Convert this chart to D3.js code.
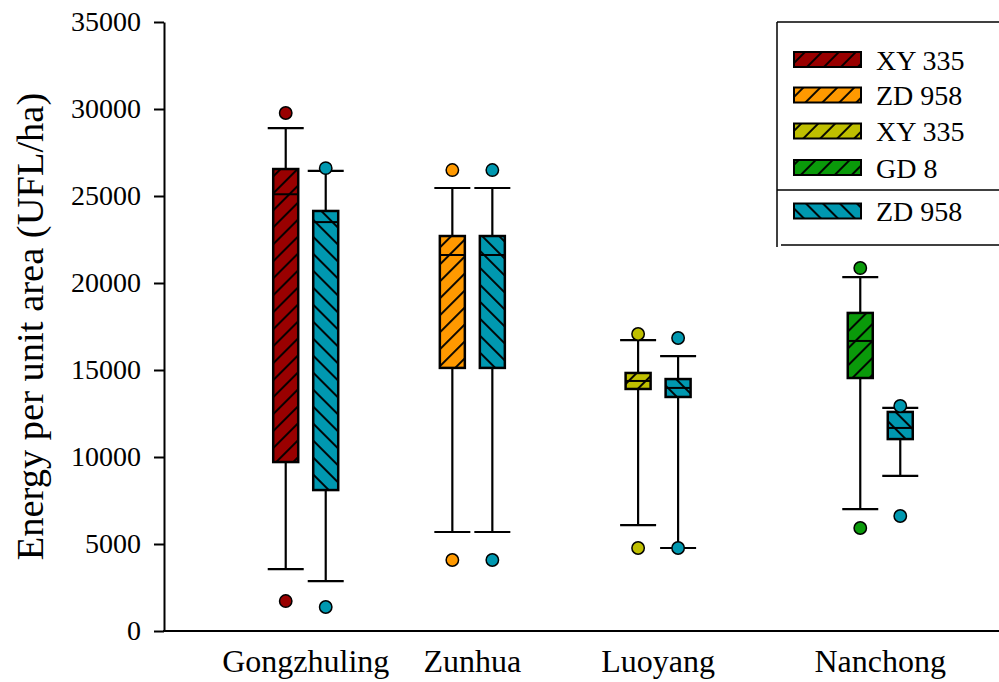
<!DOCTYPE html>
<html>
<head>
<meta charset="utf-8">
<script src="https://cdn.jsdelivr.net/npm/d3@7/dist/d3.min.js"></script>
<style>
  html, body { margin: 0; padding: 0; background: #fff; }
  svg { display: block; }
  svg text { font-family: "Liberation Serif", Tinos, "Times New Roman", Times, "DejaVu Serif", serif !important; fill: #000; }
</style>
</head>
<body>
<svg id="chart" width="999" height="682"></svg>
<script>
// ---------------- DATA ----------------
const categories = ["Gongzhuling", "Zunhua", "Luoyang", "Nanchong"];
const categoryPos = [1, 1.87, 2.84, 4];           // x positions in axis units
const leftCultivars = ["XY 335", "ZD 958", "XY 335", "GD 8"];
const rightCultivars = ["ZD 958", "ZD 958", "ZD 958", "ZD 958"];
// [lower whisker, Q1, median, Q3, upper whisker]
const leftStats = [
  [3560, 9710, 25100, 26550, 28900],
  [5690, 15120, 21610, 22700, 25460],
  [6090, 13910, 14370, 14830, 16720],
  [7010, 14540, 16670, 18280, 20340]
];
const rightStats = [
  [2870, 8100, 23500, 24140, 26440],
  [5690, 15120, 21610, 22700, 25460],
  [4770, 13450, 13970, 14480, 15800],
  [8910, 11030, 11670, 12590, 12820]
];
const leftOutliers = [[1720, 29770], [4080, 26490], [4770, 17070], [5920, 20860]];
const rightOutliers = [[1380, 26600], [4080, 26490], [4770, 16840], [6610, 12930]];
const yTicks = [0, 5000, 10000, 15000, 20000, 25000, 30000, 35000];
const legendLabels = ["XY 335", "ZD 958", "XY 335", "GD 8", "ZD 958"];
const yTitle = "Energy per unit area (UFL/ha)";

// ---------------- STYLE ----------------
const FONT = "'Liberation Serif', Tinos, 'Times New Roman', Times, 'DejaVu Serif', serif";
const leftColors = ["#990000", "#FF9900", "#BFBF00", "#0A9A0A"];
const rightColor = "#0098B0";
const legendColors = ["#990000", "#FF9900", "#BFBF00", "#0A9A0A", "#0098B0"];
const legendHatch = ["fwd", "fwd", "fwd", "fwd", "back"];

const svg = d3.select("#chart");
const plot = { left: 164, right: 999, top: 22, bottom: 631 };

const x = d3.scaleLinear().domain([0.26, 4.62]).range([plot.left, plot.right]);
const y = d3.scaleLinear().domain([0, 35000]).range([plot.bottom, plot.top]);

const boxW = 25, capW = 36, offset = 20;

// hatch patterns
const defs = svg.append("defs");
function makePattern(id, color, angle) {
  const s = 12;
  const p = defs.append("pattern")
    .attr("id", id)
    .attr("patternUnits", "userSpaceOnUse")
    .attr("width", s).attr("height", s)
    .attr("patternTransform", `rotate(${angle})`);
  p.append("rect").attr("width", s).attr("height", s).attr("fill", color);
  p.append("line").attr("x1", s / 2).attr("y1", -1).attr("x2", s / 2).attr("y2", s + 1)
    .attr("stroke", "#000").attr("stroke-width", 1.9);
}
leftColors.forEach((c, i) => makePattern("hl" + i, c, 45));
makePattern("hr", rightColor, -45);
legendColors.forEach((c, i) => makePattern("lg" + i, c, legendHatch[i] === "fwd" ? 45 : -45));

// y axis
const yAxis = d3.axisLeft(y).tickValues(yTicks).tickSize(10).tickSizeOuter(0).tickPadding(13)
  .tickFormat(d3.format("d"));
const yG = svg.append("g").attr("transform", `translate(${plot.left},0)`).call(yAxis)
  .attr("font-family", FONT);
yG.select(".domain").attr("stroke", "#000").attr("stroke-width", 2);
yG.selectAll(".tick line").attr("stroke", "#000").attr("stroke-width", 2);
yG.selectAll(".tick text").attr("font-size", 28).style("font-family", FONT);

// x axis line
svg.append("line").attr("x1", plot.left - 1).attr("x2", plot.right)
  .attr("y1", y(0)).attr("y2", y(0)).attr("stroke", "#000").attr("stroke-width", 2);

// category labels
svg.selectAll(".cat").data(categories).join("text")
  .attr("class", "cat")
  .attr("x", (d, i) => x(categoryPos[i]))
  .attr("y", 672)
  .attr("text-anchor", "middle")
  .attr("font-size", 32)
  .style("font-family", FONT)
  .text(d => d);

// y title
svg.append("text")
  .attr("transform", `translate(43, ${(plot.top + plot.bottom) / 2}) rotate(-90)`)
  .attr("text-anchor", "middle")
  .attr("font-size", 38.5)
  .style("font-family", FONT)
  .text(yTitle);

// boxes
function drawBox(cx, s, outl, fill, color) {
  const g = svg.append("g");
  const [lo, q1, med, q3, hi] = s;
  g.append("line").attr("x1", cx).attr("x2", cx).attr("y1", y(hi)).attr("y2", y(q3))
    .attr("stroke", "#000").attr("stroke-width", 2.2);
  g.append("line").attr("x1", cx).attr("x2", cx).attr("y1", y(q1)).attr("y2", y(lo))
    .attr("stroke", "#000").attr("stroke-width", 2.2);
  [lo, hi].forEach(v => g.append("line")
    .attr("x1", cx - capW / 2).attr("x2", cx + capW / 2)
    .attr("y1", y(v)).attr("y2", y(v))
    .attr("stroke", "#000").attr("stroke-width", 2.2));
  g.append("rect").attr("x", cx - boxW / 2).attr("width", boxW)
    .attr("y", y(q3)).attr("height", y(q1) - y(q3))
    .attr("fill", fill).attr("stroke", "#000").attr("stroke-width", 2.5);
  g.append("line").attr("x1", cx - boxW / 2).attr("x2", cx + boxW / 2)
    .attr("y1", y(med)).attr("y2", y(med))
    .attr("stroke", "#000").attr("stroke-width", 2);
  outl.forEach(v => g.append("circle").attr("cx", cx).attr("cy", y(v)).attr("r", 6.2)
    .attr("fill", color).attr("stroke", "#000").attr("stroke-width", 1.5));
}
categories.forEach((c, i) => {
  const cx = x(categoryPos[i]);
  drawBox(cx - offset, leftStats[i], leftOutliers[i], `url(#hl${i})`, leftColors[i]);
  drawBox(cx + offset, rightStats[i], rightOutliers[i], "url(#hr)", rightColor);
});

// legend
const lg = svg.append("g");
const lgLeft = 777, lgTop = 22, lgDiv = 190, lgBottom = 245;
lg.append("line").attr("x1", lgLeft).attr("x2", 999).attr("y1", lgTop).attr("y2", lgTop)
  .attr("stroke", "#000").attr("stroke-width", 1.5);
lg.append("line").attr("x1", lgLeft).attr("x2", lgLeft).attr("y1", lgTop).attr("y2", lgBottom + 2)
  .attr("stroke", "#000").attr("stroke-width", 1.5);
lg.append("line").attr("x1", lgLeft).attr("x2", 999).attr("y1", lgDiv).attr("y2", lgDiv)
  .attr("stroke", "#000").attr("stroke-width", 1.5);
lg.append("line").attr("x1", lgLeft + 4).attr("x2", 999).attr("y1", lgBottom).attr("y2", lgBottom)
  .attr("stroke", "#000").attr("stroke-width", 1.5);
const lgY = [59.5, 95, 131, 167.5, 211];
legendLabels.forEach((t, i) => {
  lg.append("rect").attr("x", 794).attr("y", lgY[i] - 7.5).attr("width", 67).attr("height", 15)
    .attr("fill", `url(#lg${i})`).attr("stroke", "#000").attr("stroke-width", 2);
  lg.append("text").attr("x", 876).attr("y", lgY[i]).attr("dy", "0.36em")
    .attr("font-size", 28).style("font-family", FONT).text(t);
});
</script>
</body>
</html>
